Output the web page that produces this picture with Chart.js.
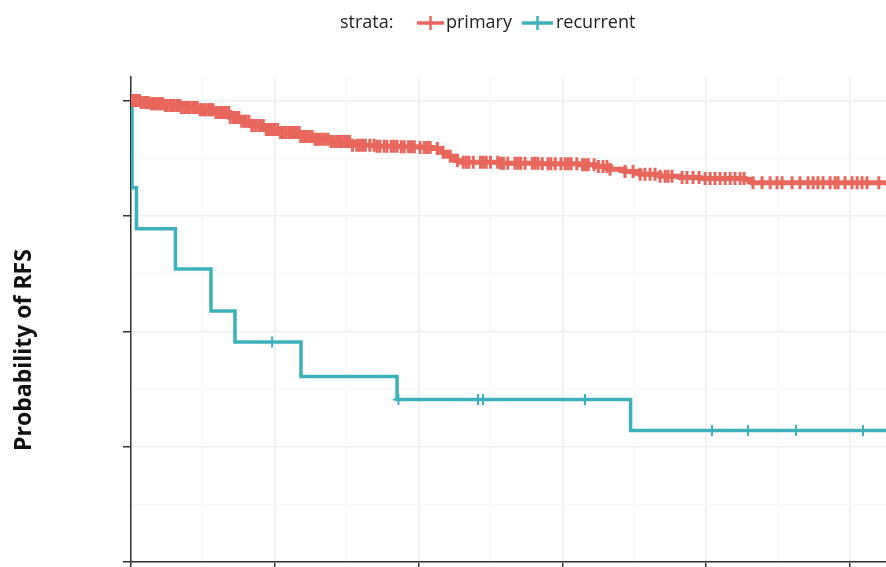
<!DOCTYPE html>
<html>
<head>
<meta charset="utf-8">
<script src="https://cdn.jsdelivr.net/npm/chart.js@4/dist/chart.umd.min.js"></script>
<style>
  html, body { margin: 0; padding: 0; background: #ffffff; }
  #wrap { width: 886px; height: 567px; position: relative; }
</style>
</head>
<body>
<div id="wrap"><canvas id="kmChart"></canvas></div>
<script>
// survival steps (time in years, survival probability)
const primaryTimes = [0, 0.063, 0.132, 0.236, 0.341, 0.480, 0.584, 0.688, 0.758, 0.828, 0.932, 1.036, 1.175, 1.280, 1.384, 1.523, 1.697, 1.871, 2.010, 2.100, 2.149, 2.197, 2.253, 2.302, 2.566, 2.844, 3.122, 3.227, 3.331, 3.435, 3.540, 3.679, 3.818, 3.957, 4.270, 4.318, 5.25];
const primarySurv = [1.000, 0.996, 0.993, 0.989, 0.985, 0.980, 0.974, 0.963, 0.955, 0.946, 0.937, 0.931, 0.922, 0.916, 0.911, 0.903, 0.901, 0.900, 0.898, 0.896, 0.888, 0.879, 0.870, 0.866, 0.864, 0.863, 0.861, 0.857, 0.851, 0.846, 0.840, 0.836, 0.833, 0.831, 0.829, 0.822, 0.822];
const primaryCensor = [0.01, 0.02, 0.03, 0.04, 0.05, 0.06, 0.07, 0.09, 0.10, 0.11, 0.12, 0.14, 0.15, 0.16, 0.17, 0.19, 0.20, 0.21, 0.22, 0.24, 0.25, 0.27, 0.28, 0.29, 0.30, 0.32, 0.33, 0.34, 0.35, 0.37, 0.38, 0.40, 0.41, 0.43, 0.44, 0.45, 0.46, 0.48, 0.49, 0.51, 0.52, 0.54, 0.55, 0.56, 0.57, 0.59, 0.60, 0.62, 0.63, 0.65, 0.66, 0.68, 0.69, 0.71, 0.72, 0.74, 0.75, 0.77, 0.79, 0.80, 0.82, 0.84, 0.85, 0.87, 0.89, 0.90, 0.92, 0.94, 0.95, 0.97, 0.99, 1.00, 1.02, 1.04, 1.06, 1.08, 1.10, 1.11, 1.13, 1.15, 1.17, 1.18, 1.20, 1.22, 1.24, 1.26, 1.28, 1.29, 1.31, 1.33, 1.35, 1.37, 1.39, 1.41, 1.43, 1.45, 1.47, 1.49, 1.50,
  1.52, 1.54, 1.57, 1.59, 1.61, 1.63, 1.66, 1.69, 1.71, 1.73, 1.76, 1.78, 1.81, 1.83, 1.85, 1.88, 1.90, 1.93, 1.95, 1.97, 2.01, 2.04, 2.06, 2.08, 2.13, 2.17, 2.22, 2.27, 2.31, 2.33, 2.35, 2.38, 2.43, 2.45, 2.47, 2.50, 2.55, 2.57, 2.59, 2.62, 2.67, 2.69, 2.71, 2.74, 2.79, 2.81, 2.83, 2.86, 2.90, 2.92, 2.95, 2.99, 3.02, 3.04, 3.06, 3.10, 3.14, 3.16, 3.18, 3.22, 3.25,
  3.282, 3.310, 3.331, 3.435, 3.491, 3.540, 3.574, 3.609, 3.644, 3.679, 3.714, 3.734, 3.762, 3.832, 3.866, 3.908, 3.950, 3.992, 4.027, 4.061, 4.096, 4.131, 4.166, 4.200, 4.235, 4.263, 4.325, 4.388, 4.444, 4.492, 4.527, 4.597, 4.652, 4.708, 4.743, 4.777, 4.812, 4.861, 4.896, 4.917, 4.965, 5.014, 5.049, 5.083, 5.118, 5.20];

const recurrentTimes = [0, 0.007, 0.038, 0.309, 0.556, 0.723, 1.182, 1.850, 3.474, 5.25];
const recurrentSurv = [1.000, 0.811, 0.722, 0.635, 0.544, 0.477, 0.402, 0.352, 0.285, 0.285];
const recurrentCensor = [0.981, 1.86, 2.413, 2.448, 3.157, 4.040, 4.291, 4.624, 5.090];

const xMajorTicks = [0, 1, 2, 3, 4, 5];
const yMajorTicks = [0, 0.25, 0.5, 0.75, 1.0];
const strataLabels = ['primary', 'recurrent'];
const yTitle = 'Probability of RFS';

const RED = '#e8665c';
const TEAL = '#3cb1bc';

function stepPoints(times, surv) {
  return times.map((t, i) => ({ x: t, y: surv[i] }));
}

// survival value in force at time t (value after the last step at or before t)
function survAt(times, surv, t) {
  let s = surv[0];
  for (let i = 0; i < times.length; i++) {
    if (times[i] <= t) s = surv[i];
  }
  return s;
}

function censorPoints(censor, times, surv) {
  return censor.map(t => ({ x: t, y: survAt(times, surv, t) }));
}

const isMajorX = v => xMajorTicks.some(m => Math.abs(m - v) < 1e-6);
const isMajorY = v => yMajorTicks.some(m => Math.abs(m - v) < 1e-6);

const kmExtras = {
  id: 'kmExtras',
  afterDraw(chart) {
    const ctx = chart.ctx;
    // y axis title
    ctx.save();
    ctx.translate(24, 350);
    ctx.rotate(-Math.PI / 2);
    ctx.font = 'bold 23px "Open Sans"';
    ctx.fillStyle = '#111111';
    ctx.textAlign = 'center';
    ctx.textBaseline = 'middle';
    ctx.fillText(yTitle, 0, 0);
    ctx.restore();

    // legend: "strata:" + line keys with censor cross
    ctx.save();
    ctx.font = '18px "Open Sans"';
    ctx.fillStyle = '#222222';
    ctx.textBaseline = 'middle';
    ctx.textAlign = 'left';
    const ly = 23;
    ctx.fillText('strata:', 340, ly);
    const keys = [
      { x0: 417, x1: 444, color: RED, label: strataLabels[0], tx: 446 },
      { x0: 522, x1: 553, color: TEAL, label: strataLabels[1], tx: 556 }
    ];
    keys.forEach(k => {
      ctx.strokeStyle = k.color;
      ctx.lineWidth = 3.5;
      ctx.beginPath();
      ctx.moveTo(k.x0, ly);
      ctx.lineTo(k.x1, ly);
      ctx.stroke();
      const cx = (k.x0 + k.x1) / 2;
      ctx.lineWidth = 2.5;
      ctx.beginPath();
      ctx.moveTo(cx, ly - 7);
      ctx.lineTo(cx, ly + 7);
      ctx.stroke();
      ctx.fillStyle = '#222222';
      ctx.fillText(k.label, k.tx, ly);
    });
    ctx.restore();
  }
};

new Chart(document.getElementById('kmChart').getContext('2d'), {
  type: 'line',
  data: {
    datasets: [
      {
        label: strataLabels[0],
        data: stepPoints(primaryTimes, primarySurv),
        borderColor: RED,
        borderWidth: 5,
        stepped: 'before',
        pointRadius: 0,
        fill: false
      },
      {
        label: strataLabels[0] + ' censored',
        data: censorPoints(primaryCensor, primaryTimes, primarySurv),
        showLine: false,
        pointStyle: 'cross',
        pointRadius: 6.5,
        pointBorderWidth: 3,
        pointBorderColor: RED,
        borderColor: RED
      },
      {
        label: strataLabels[1],
        data: stepPoints(recurrentTimes, recurrentSurv),
        borderColor: TEAL,
        borderWidth: 3.5,
        stepped: 'before',
        pointRadius: 0,
        fill: false
      },
      {
        label: strataLabels[1] + ' censored',
        data: censorPoints(recurrentCensor, recurrentTimes, recurrentSurv),
        showLine: false,
        pointStyle: 'cross',
        pointRadius: 5.5,
        pointBorderWidth: 2,
        pointBorderColor: TEAL,
        borderColor: TEAL
      }
    ]
  },
  options: {
    responsive: true,
    maintainAspectRatio: false,
    animation: false,
    layout: { autoPadding: false, padding: { top: 77, left: 123, right: 0, bottom: 0 } },
    scales: {
      x: {
        type: 'linear',
        min: 0,
        max: 5.25,
        ticks: { display: false, stepSize: 0.5, includeBounds: false },
        grid: {
          color: ctx => isMajorX(ctx.tick.value) ? '#efefef' : '#f6f6f6',
          lineWidth: ctx => isMajorX(ctx.tick.value) ? 1.5 : 1,
          tickColor: ctx => isMajorX(ctx.tick.value) ? '#333333' : 'rgba(0,0,0,0)',
          tickLength: 5,
          tickWidth: 1.5
        },
        border: { display: true, color: '#333333', width: 1.5 }
      },
      y: {
        type: 'linear',
        min: 0,
        max: 1.051,
        ticks: { display: false, stepSize: 0.125, includeBounds: false },
        grid: {
          color: ctx => isMajorY(ctx.tick.value) ? '#efefef' : '#f6f6f6',
          lineWidth: ctx => isMajorY(ctx.tick.value) ? 1.5 : 1,
          tickColor: ctx => isMajorY(ctx.tick.value) ? '#333333' : 'rgba(0,0,0,0)',
          tickLength: 8,
          tickWidth: 1.5
        },
        border: { display: true, color: '#333333', width: 1.5 }
      }
    },
    plugins: {
      legend: { display: false },
      tooltip: { enabled: false }
    }
  },
  plugins: [kmExtras]
});
</script>
</body>
</html>
